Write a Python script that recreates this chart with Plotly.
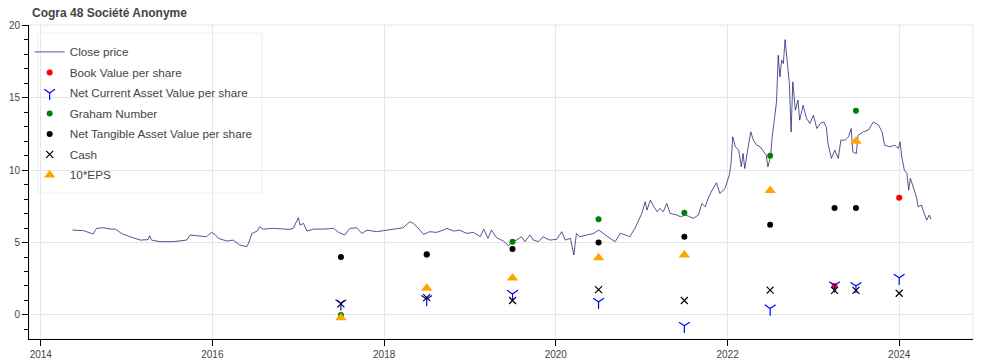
import pandas as pd
import plotly.graph_objects as go

# ---------------- data ----------------
price_t = [
    2014.37, 2014.50, 2014.61, 2014.65, 2014.73, 2014.81, 2014.87, 2014.94, 2015.04, 2015.16,
    2015.25, 2015.27, 2015.29, 2015.39, 2015.54, 2015.62, 2015.70, 2015.74, 2015.82, 2015.93,
    2015.99, 2016.03, 2016.07, 2016.17, 2016.24, 2016.32, 2016.40, 2016.42, 2016.46, 2016.52,
    2016.55, 2016.59, 2016.71, 2016.83, 2016.90, 2016.94, 2017.00, 2017.02, 2017.06, 2017.10,
    2017.18, 2017.29, 2017.41, 2017.47, 2017.54, 2017.60, 2017.68, 2017.74, 2017.80, 2017.91,
    2018.03, 2018.15, 2018.22, 2018.30, 2018.34, 2018.40, 2018.46, 2018.53, 2018.61, 2018.69,
    2018.73, 2018.81, 2018.88, 2018.96, 2019.04, 2019.12, 2019.16, 2019.21, 2019.25, 2019.31,
    2019.39, 2019.45, 2019.49, 2019.54, 2019.60, 2019.64, 2019.70, 2019.74, 2019.80, 2019.85,
    2019.93, 2020.01, 2020.07, 2020.11, 2020.17, 2020.21, 2020.24, 2020.28, 2020.36, 2020.44,
    2020.50, 2020.55, 2020.63, 2020.69, 2020.75, 2020.81, 2020.86, 2020.92, 2020.96, 2021.00,
    2021.04, 2021.06, 2021.10, 2021.14, 2021.18, 2021.21, 2021.25, 2021.29, 2021.33, 2021.41,
    2021.45, 2021.51, 2021.56, 2021.60, 2021.66, 2021.70, 2021.74, 2021.78, 2021.82, 2021.87,
    2021.91, 2021.97, 2022.02, 2022.04, 2022.06, 2022.09, 2022.13, 2022.16, 2022.18, 2022.20,
    2022.24, 2022.27, 2022.30, 2022.34, 2022.38, 2022.42, 2022.45, 2022.47, 2022.50, 2022.52,
    2022.53, 2022.55, 2022.57, 2022.59, 2022.61, 2022.63, 2022.65, 2022.67, 2022.70, 2022.72,
    2022.74, 2022.76, 2022.79, 2022.82, 2022.84, 2022.88, 2022.92, 2022.96, 2023.00, 2023.04,
    2023.08, 2023.12, 2023.15, 2023.17, 2023.21, 2023.25, 2023.29, 2023.32, 2023.37, 2023.41,
    2023.44, 2023.46, 2023.50, 2023.52, 2023.58, 2023.64, 2023.70, 2023.76, 2023.80, 2023.83,
    2023.89, 2023.95, 2023.99, 2024.01, 2024.03, 2024.06, 2024.09, 2024.11, 2024.13, 2024.16,
    2024.20, 2024.22, 2024.26, 2024.29, 2024.32, 2024.35, 2024.37,
]
price_v = [
    5.86, 5.82, 5.59, 5.98, 6.02, 5.93, 5.93, 5.63, 5.40, 5.17,
    5.20, 5.47, 5.17, 5.06, 5.06, 5.10, 5.17, 5.52, 5.47, 5.40,
    5.70, 5.56, 5.29, 5.10, 5.17, 4.83, 4.71, 4.94, 5.63, 5.79,
    6.09, 5.93, 5.98, 5.93, 5.91, 5.98, 6.71, 6.21, 6.32, 5.79,
    5.93, 5.93, 5.98, 5.70, 5.52, 5.98, 6.02, 5.63, 5.86, 5.75,
    5.86, 5.98, 6.02, 6.44, 6.32, 5.98, 5.56, 5.75, 5.70, 5.86,
    5.98, 5.79, 5.86, 5.63, 5.70, 5.40, 5.93, 5.29, 5.86, 5.33,
    5.10, 4.78, 5.06, 5.17, 5.40, 5.06, 5.52, 5.17, 5.06, 5.40,
    5.17, 5.22, 5.75, 5.17, 5.29, 4.14, 5.63, 5.40, 5.52, 5.63,
    5.86, 5.63, 5.29, 5.06, 5.63, 5.52, 5.40, 5.98, 6.55, 7.01,
    7.82, 7.24, 7.93, 7.47, 7.13, 7.36, 7.13, 7.70, 7.01, 6.90,
    6.78, 6.90, 6.78, 6.67, 6.90, 7.70, 7.47, 8.16, 8.62, 9.13,
    8.39, 8.74, 9.66, 10.46, 12.30, 11.61, 11.38, 10.23, 11.15, 10.11,
    11.61, 12.64, 12.07, 11.72, 11.61, 11.26, 11.03, 10.23, 10.92, 12.30,
    12.87, 14.02, 14.71, 17.93, 16.43, 17.59, 17.36, 19.01, 16.90, 15.98,
    12.64, 16.09, 14.14, 14.83, 13.45, 14.48, 13.57, 13.22, 13.79, 12.87,
    13.22, 13.33, 12.99, 11.84, 10.81, 11.38, 10.81, 12.07, 12.07, 12.30,
    12.87, 11.26, 11.15, 12.41, 12.64, 12.76, 13.33, 13.10, 12.64, 11.72,
    11.61, 11.72, 11.49, 11.95, 10.92, 10.00, 9.77, 8.62, 9.43, 8.85,
    8.16, 7.47, 7.59, 7.01, 6.55, 6.90, 6.60,
]

book_dates = ["2023-04-01", "2024-01-01"]
book_vals = [2.0, 8.1]

ncav_dates = ["2017-07-01", "2018-07-01", "2019-07-01", "2020-07-01", "2021-07-01",
              "2022-07-01", "2023-04-01", "2023-07-01", "2024-01-01"]
ncav_vals = [0.8, 1.1, 1.45, 0.9, -0.75, 0.45, 2.05, 2.0, 2.57]

graham_dates = ["2017-07-01", "2018-07-01", "2019-07-01", "2020-07-01", "2021-07-01",
                "2022-07-01", "2023-07-01"]
graham_vals = [0.0, 4.15, 5.05, 6.6, 7.05, 11.0, 14.1]

ntav_dates = ["2017-07-01", "2018-07-01", "2019-07-01", "2020-07-01", "2021-07-01",
              "2022-07-01", "2023-04-01", "2023-07-01"]
ntav_vals = [4.0, 4.2, 4.55, 5.0, 5.4, 6.23, 7.38, 7.38]

cash_dates = ["2017-07-01", "2018-07-01", "2019-07-01", "2020-07-01", "2021-07-01",
              "2022-07-01", "2023-04-01", "2023-07-01", "2024-01-01"]
cash_vals = [0.76, 1.2, 1.0, 1.75, 1.0, 1.72, 1.7, 1.7, 1.5]

eps_dates = ["2017-07-01", "2018-07-01", "2019-07-01", "2020-07-01", "2021-07-01",
             "2022-07-01", "2023-07-01"]
eps_vals = [-0.2, 1.85, 2.55, 3.95, 4.14, 8.6, 12.0]

title_text = "Cogra 48 Société Anonyme"


def dec_to_date(y):
    yr = int(y)
    start = pd.Timestamp(year=yr, month=1, day=1)
    end = pd.Timestamp(year=yr + 1, month=1, day=1)
    return start + (end - start) * (y - yr)


price_dates = [dec_to_date(t) for t in price_t]

FONT = "Liberation Sans, Arial, Helvetica, sans-serif"
TXT = "#444444"
GRID = "#e5e5e5"

fig = go.Figure()
fig.add_trace(go.Scatter(x=price_dates, y=price_v, mode="lines", name="Close price",
                         legendgroup="g1",
                         line=dict(color="rgba(20,20,110,0.72)", width=1)))
fig.add_trace(go.Scatter(x=book_dates, y=book_vals, mode="markers", name="Book Value per share",
                         legendgroup="g2",
                         marker=dict(color="red", size=6, symbol="circle")))
fig.add_trace(go.Scatter(x=ncav_dates, y=ncav_vals, mode="markers",
                         name="Net Current Asset Value per share", legendgroup="g3",
                         marker=dict(symbol="y-down", size=9, color="blue",
                                     line=dict(color="blue", width=1.2))))
fig.add_trace(go.Scatter(x=graham_dates, y=graham_vals, mode="markers", name="Graham Number",
                         legendgroup="g4",
                         marker=dict(color="green", size=6, symbol="circle")))
fig.add_trace(go.Scatter(x=ntav_dates, y=ntav_vals, mode="markers",
                         name="Net Tangible Asset Value per share", legendgroup="g5",
                         marker=dict(color="black", size=6, symbol="circle")))
fig.add_trace(go.Scatter(x=cash_dates, y=cash_vals, mode="markers", name="Cash",
                         legendgroup="g6",
                         marker=dict(symbol="x-thin", size=7, color="black",
                                     line=dict(color="black", width=1.2))))
fig.add_trace(go.Scatter(x=eps_dates, y=eps_vals, mode="markers", name="10*EPS",
                         legendgroup="g7",
                         marker=dict(symbol="triangle-up", size=10, color="orange")))

fig.update_layout(
    width=1000, height=360,
    margin=dict(l=29, r=27, t=25, b=21, pad=0),
    paper_bgcolor="white", plot_bgcolor="white",
    font=dict(family=FONT, color=TXT, size=10),
    showlegend=True,
    legend=dict(x=0.0007, y=0.9605, xanchor="left", yanchor="top",
                bgcolor="rgba(0,0,0,0)", borderwidth=0, tracegroupgap=1.5,
                font=dict(size=11.75, color=TXT, family=FONT)),
    xaxis=dict(type="date", range=["2013-11-12", "2024-11-10"], automargin=False,
               tick0="2014-01-01", dtick="M24", tickformat="%Y",
               showgrid=True, gridcolor=GRID, gridwidth=1,
               showline=True, linecolor="black", linewidth=1,
               ticks="outside", ticklen=6, tickcolor="black", tickwidth=1,
               tickfont=dict(size=10, color=TXT), zeroline=False),
    yaxis=dict(range=[-1.66, 20.02], tick0=0, dtick=5, automargin=False,
               showgrid=True, gridcolor=GRID, gridwidth=1,
               showline=True, linecolor="black", linewidth=1,
               ticks="outside", ticklen=6, tickcolor="black", tickwidth=1,
               minor=dict(ticks="outside", ticklen=4, dtick=1, tickcolor="black",
                          tickwidth=1, showgrid=False),
               tickfont=dict(size=10, color=TXT), zeroline=False),
    shapes=[
        dict(type="rect", xref="paper", yref="paper", x0=0, x1=1, y0=0, y1=1,
             line=dict(color=GRID, width=1), layer="below"),
        dict(type="rect", xref="paper", yref="paper", x0=0.0095, x1=0.2468, y0=0.465, y1=0.9745,
             line=dict(color="#eeeeee", width=1), fillcolor="rgba(255,255,255,0.92)",
             layer="between"),
    ],
    annotations=[
        dict(text="<b>" + title_text + "</b>", xref="paper", yref="paper",
             x=0.001, y=1.0, yshift=12, xanchor="left", yanchor="middle", showarrow=False,
             font=dict(size=12, color=TXT, family=FONT)),
    ],
)

fig.write_html("out.html")
